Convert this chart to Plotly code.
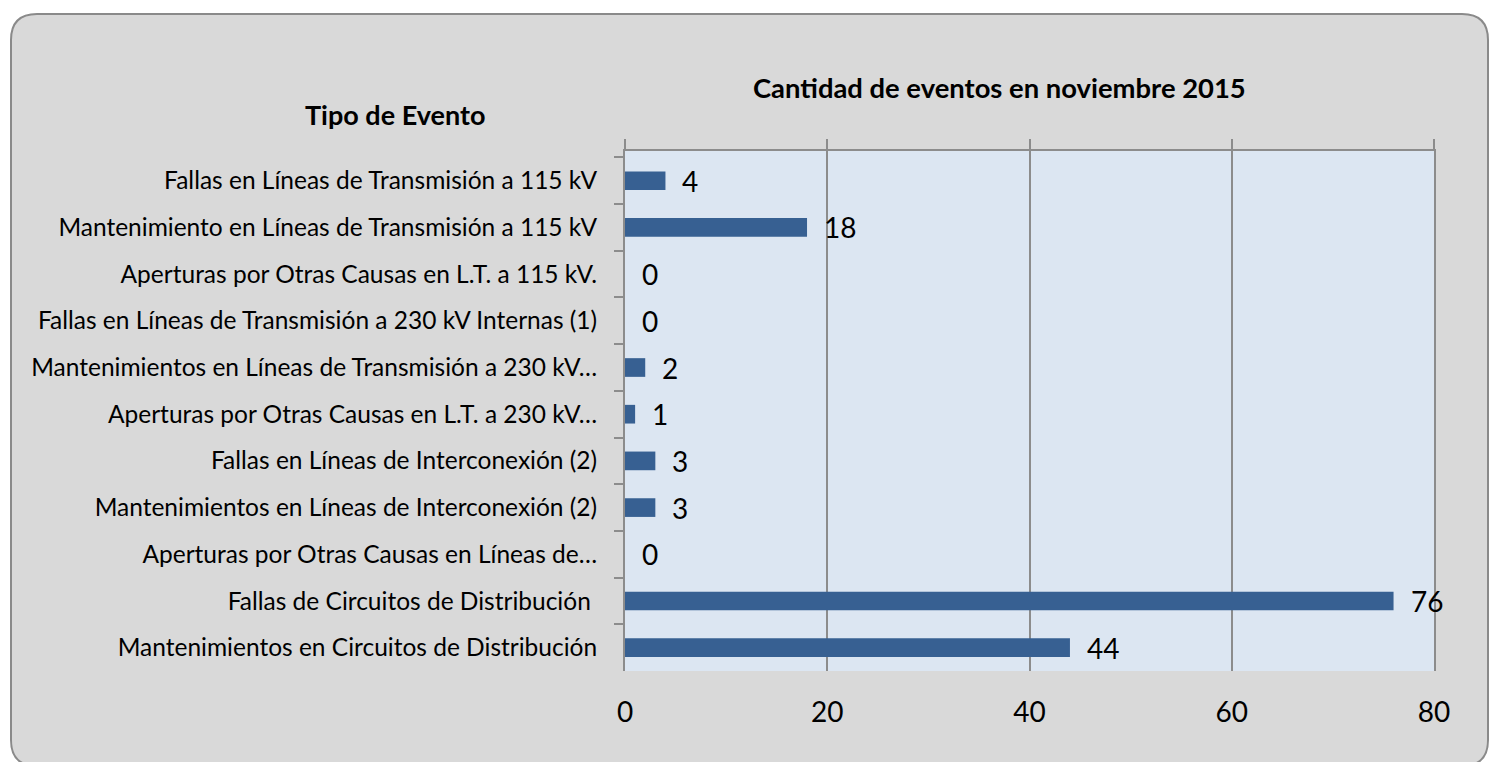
import plotly.graph_objects as go

categories = [
    "Fallas en Líneas de Transmisión a 115 kV",
    "Mantenimiento en Líneas de Transmisión a 115 kV",
    "Aperturas por Otras Causas en L.T. a 115 kV.",
    "Fallas en Líneas de Transmisión a 230 kV Internas (1)",
    "Mantenimientos en Líneas de Transmisión a 230 kV…",
    "Aperturas por Otras Causas en L.T. a 230 kV…",
    "Fallas en Líneas de Interconexión (2)",
    "Mantenimientos en Líneas de Interconexión (2)",
    "Aperturas por Otras Causas en Líneas de…",
    "Fallas de Circuitos de Distribución\u00a0",
    "Mantenimientos en Circuitos de Distribución",
]
values = [4, 18, 0, 0, 2, 1, 3, 3, 0, 76, 44]
x_ticks = [0, 20, 40, 60, 80]

OFF = 8  # page body margin
W, H = 1498 - OFF, 762 - OFF
L, R, T, B = 625 - OFF, 1434 - OFF, 151 - OFF, 671 - OFF
FONT = "Lato"
GRID = "#8c8c8c"


def px(x):
    return (x - OFF - L) / (R - L)


def py(y):
    return (B - (y - OFF)) / (B - T)


def rounded_rect(x0, y0, x1, y1, r):
    pts = [
        f"M {px(x0 + r)} {py(y0)}",
        f"L {px(x1 - r)} {py(y0)}",
        f"Q {px(x1)} {py(y0)} {px(x1)} {py(y0 + r)}",
        f"L {px(x1)} {py(y1 - r)}",
        f"Q {px(x1)} {py(y1)} {px(x1 - r)} {py(y1)}",
        f"L {px(x0 + r)} {py(y1)}",
        f"Q {px(x0)} {py(y1)} {px(x0)} {py(y1 - r)}",
        f"L {px(x0)} {py(y0 + r)}",
        f"Q {px(x0)} {py(y0)} {px(x0 + r)} {py(y0)}",
        "Z",
    ]
    return " ".join(pts)


fig = go.Figure()
fig.add_trace(go.Bar(
    x=values, y=categories, orientation="h",
    marker=dict(color="#376092", line=dict(width=0)),
    showlegend=False, hoverinfo="x+y",
))
# invisible trace to activate the top axis
fig.add_trace(go.Scatter(
    x=[0], y=[categories[0]], xaxis="x2", mode="markers",
    marker=dict(opacity=0), showlegend=False, hoverinfo="skip",
))

for c, v in zip(categories, values):
    fig.add_annotation(
        x=v, y=c, xref="x", yref="y", text=str(v), showarrow=False,
        xanchor="left", yanchor="middle", xshift=15,
        font=dict(family=FONT, size=28, color="#000000"),
    )

fig.add_annotation(
    x=px(999), y=py(87), xref="paper", yref="paper",
    text="<b>Cantidad de eventos en noviembre 2015</b>", showarrow=False,
    xanchor="center", yanchor="middle",
    font=dict(family=FONT, size=27.4, color="#000000"),
)
fig.add_annotation(
    x=px(395), y=py(114), xref="paper", yref="paper",
    text="<b>Tipo de Evento</b>", showarrow=False,
    xanchor="center", yanchor="middle",
    font=dict(family=FONT, size=27, color="#000000"),
)

fig.add_shape(
    type="path", path=rounded_rect(11, 14, 1488, 766, 26),
    xref="paper", yref="paper", layer="below",
    fillcolor="#d9d9d9", line=dict(color="#8a8a8a", width=2),
)
fig.add_shape(
    type="rect", x0=0, x1=1, y0=0, y1=1, xref="paper", yref="paper",
    layer="below", fillcolor="#dce6f2", line=dict(width=0),
)

fig.update_layout(
    width=W, height=H,
    margin=dict(l=L, r=W - R, t=T, b=H - B, pad=0),
    paper_bgcolor="#ffffff",
    plot_bgcolor="rgba(0,0,0,0)",
    bargap=0.6,
    font=dict(family=FONT, color="#000000"),
    xaxis=dict(
        range=[0, 80], tickvals=x_ticks, ticktext=[str(t) for t in x_ticks],
        showgrid=True, gridcolor=GRID, gridwidth=2,
        zeroline=False, showline=False, ticks="",
        ticklabelstandoff=22,
        tickfont=dict(family=FONT, size=28, color="#000000"),
    ),
    xaxis2=dict(
        range=[0, 80], tickvals=x_ticks, overlaying="x", side="top",
        showgrid=False, zeroline=False, showticklabels=False,
        showline=True, linecolor=GRID, linewidth=2,
        ticks="outside", ticklen=10, tickwidth=2, tickcolor=GRID,
    ),
    yaxis=dict(
        categoryorder="array", categoryarray=categories,
        autorange="reversed", showgrid=False, zeroline=False,
        showline=True, mirror=True, linecolor=GRID, linewidth=2,
        ticks="outside", tickson="boundaries", ticklen=9, tickwidth=2,
        tickcolor=GRID, ticklabelstandoff=21,
        tickfont=dict(family=FONT, size=24.5, color="#000000"),
    ),
)

fig.write_html("out.html")
